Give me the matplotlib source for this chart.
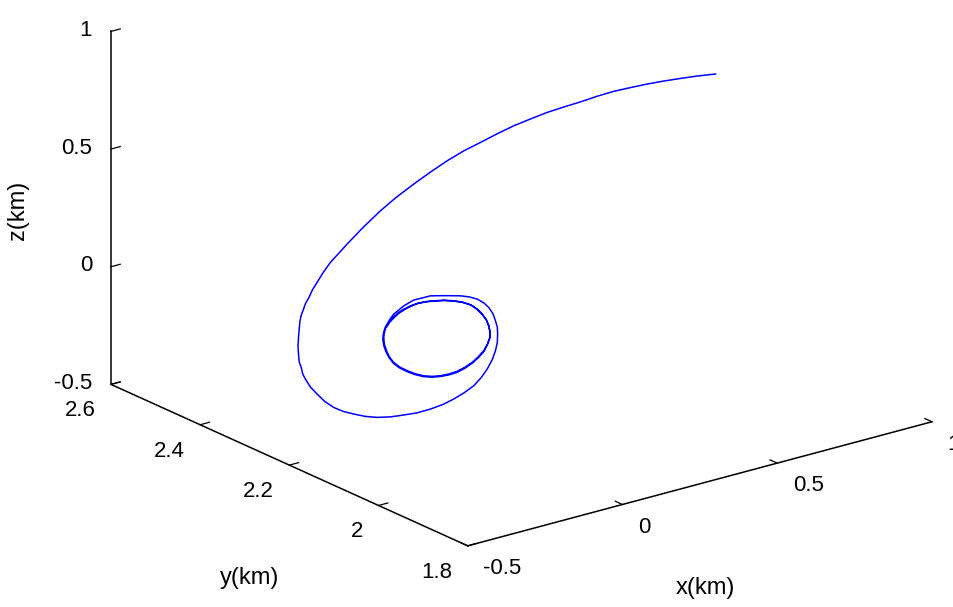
import numpy as np
import matplotlib
matplotlib.use('Agg')
import matplotlib.pyplot as plt

plt.rcParams['font.family'] = ['Liberation Sans', 'DejaVu Sans']

# trajectory (km); depth taken as the plane y = 2.2 km
x_km = [0.877, 0.819, 0.764, 0.709, 0.656, 0.602, 0.548, 0.496, 0.441, 0.386,
        0.333, 0.279, 0.225, 0.172, 0.117, 0.063, 0.010, -0.044, -0.098, -0.154,
        -0.206, -0.261, -0.313, -0.367, -0.390, -0.410, -0.426, -0.438, -0.448, -0.454,
        -0.462, -0.466, -0.470, -0.472, -0.470, -0.468, -0.461, -0.457, -0.448, -0.432,
        -0.410, -0.386, -0.357, -0.326, -0.292, -0.255, -0.216, -0.173, -0.130, -0.087,
        -0.044, -0.005, 0.031, 0.065, 0.096, 0.120, 0.139, 0.155, 0.166, 0.172,
        0.173, 0.172, 0.166, 0.158, 0.144, 0.128, 0.107, 0.082, 0.053, 0.004,
        -0.044, -0.098, -0.130, -0.163,
        # first pass of the small loop
        -0.176, -0.186, -0.192, -0.195, -0.193, -0.186, -0.177, -0.163, -0.143, -0.119,
        -0.093, -0.066, -0.039, -0.012, 0.015, 0.042, 0.068, 0.091, 0.111, 0.128,
        0.140, 0.148, 0.148, 0.144, 0.136, 0.123, 0.106, 0.085, 0.059, 0.031,
        -0.001, -0.033, -0.060, -0.087, -0.109, -0.130, -0.148, -0.164,
        # second pass
        -0.179, -0.190, -0.196, -0.198, -0.195, -0.188, -0.178, -0.164, -0.144, -0.120,
        -0.094, -0.067, -0.040, -0.012, 0.016, 0.043, 0.069, 0.092, 0.112, 0.129,
        0.140, 0.148, 0.148, 0.145, 0.137, 0.124, 0.107, 0.087, 0.061, 0.032,
        0.000, -0.033, -0.060, -0.086, -0.108, -0.128, -0.146, -0.161, -0.175, -0.185]
z_km = [0.678, 0.690, 0.699, 0.707, 0.713, 0.717, 0.720, 0.718, 0.713, 0.710,
        0.706, 0.697, 0.687, 0.672, 0.654, 0.637, 0.614, 0.585, 0.553, 0.517,
        0.477, 0.427, 0.374, 0.315, 0.281, 0.245, 0.217, 0.187, 0.168, 0.147,
        0.122, 0.096, 0.039, -0.004, -0.046, -0.073, -0.101, -0.127, -0.153, -0.192,
        -0.230, -0.269, -0.305, -0.333, -0.356, -0.379, -0.397, -0.410, -0.417, -0.423,
        -0.422, -0.417, -0.406, -0.391, -0.372, -0.346, -0.317, -0.284, -0.248, -0.215,
        -0.180, -0.150, -0.121, -0.088, -0.056, -0.031, -0.008, 0.010, 0.025, 0.043,
        0.059, 0.060, 0.047, 0.023,
        # first pass of the small loop
        0.004, -0.018, -0.040, -0.064, -0.094, -0.124, -0.153, -0.182, -0.209, -0.233,
        -0.255, -0.273, -0.285, -0.292, -0.294, -0.292, -0.283, -0.271, -0.254, -0.235,
        -0.211, -0.185, -0.160, -0.134, -0.105, -0.077, -0.049, -0.024, -0.004, 0.012,
        0.025, 0.034, 0.040, 0.042, 0.039, 0.033, 0.024, 0.011,
        # second pass
        -0.005, -0.023, -0.046, -0.071, -0.099, -0.127, -0.156, -0.185, -0.212, -0.236,
        -0.258, -0.276, -0.288, -0.295, -0.298, -0.296, -0.287, -0.274, -0.257, -0.237,
        -0.213, -0.186, -0.161, -0.136, -0.108, -0.080, -0.052, -0.026, -0.006, 0.010,
        0.024, 0.033, 0.039, 0.041, 0.037, 0.030, 0.021, 0.008, -0.006, -0.022]
y_plane = 2.2

x_ticks = [-0.5, 0, 0.5, 1]
x_tick_labels = ['-0.5', '0', '0.5', '1']
y_ticks = [1.8, 2.0, 2.2, 2.4, 2.6]
y_tick_labels = ['1.8', '2', '2.2', '2.4', '2.6']
z_ticks = [-0.5, 0, 0.5, 1]
z_tick_labels = ['-0.5', '0', '0.5', '1']

fig = plt.figure(figsize=(9.54, 6.07), dpi=100)
ax = fig.add_axes([0.0713, -0.1203, 0.9256, 1.4547], projection='3d')
ax.set_proj_type('ortho')
ax.view_init(elev=20.35, azim=-127.54)
ax.set_box_aspect((1, 1, 0.643))

ax.plot(x_km, z_km, zs=y_plane, zdir='y', color='#0000ff', lw=1.1)

ax.set_xlim(-0.5, 1)
ax.set_ylim(1.8, 2.6)
ax.set_zlim(-0.5, 1)
ax.set_xticks(x_ticks, x_tick_labels)
ax.set_yticks(y_ticks, y_tick_labels)
ax.set_zticks(z_ticks, z_tick_labels)

ax.grid(False)
ax.patch.set_alpha(0)
for axis in (ax.xaxis, ax.yaxis, ax.zaxis):
    axis.set_pane_color((1, 1, 1, 0))
    axis.pane.set_edgecolor((1, 1, 1, 0))
    axis.line.set_color('black')
    axis.line.set_linewidth(1.1)
    axis._axinfo['tick']['inward_factor'] = 0.0
    axis._axinfo['tick']['outward_factor'] = 0.25
    axis._axinfo['tick']['linewidth'] = {True: 0.9, False: 0.5}

ax.tick_params(axis='x', labelsize=16, pad=6.5, colors='black')
ax.tick_params(axis='y', labelsize=16, pad=3, colors='black')
ax.tick_params(axis='z', labelsize=16, pad=-0.4, colors='black')

for lbl in ax.get_xticklabels():
    lbl.set_ha('left'); lbl.set_va('center')
for lbl in ax.get_yticklabels():
    lbl.set_ha('right'); lbl.set_va('top')
for lbl in ax.get_zticklabels():
    lbl.set_ha('right'); lbl.set_va('center')

# axis titles placed like the original (horizontal text)
fig.text(705 / 954, 1 - 588 / 607, 'x(km)', fontsize=17, ha='center', va='center')
fig.text(250 / 954, 1 - 578 / 607, 'y(km)', fontsize=17, ha='center', va='center')
fig.text(18 / 954, 1 - 210 / 607, 'z(km)', fontsize=17, ha='center', va='center', rotation=90)

fig.savefig('out.png', dpi=100, facecolor='white')
